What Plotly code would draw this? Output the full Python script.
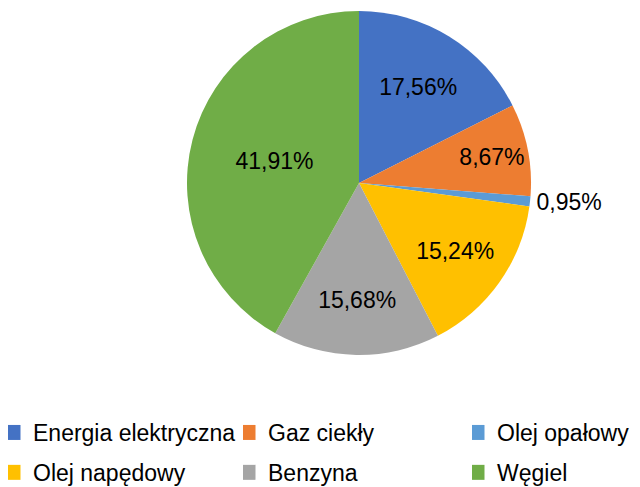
import plotly.graph_objects as go

labels = ["Energia elektryczna", "Gaz ciekły", "Olej opałowy",
          "Olej napędowy", "Benzyna", "Węgiel"]
values = [17.56, 8.67, 0.95, 15.24, 15.68, 41.91]
colors = ["#4472C4", "#ED7D31", "#5B9BD5", "#FFC000", "#A5A5A5", "#70AD47"]
text_pos = ["inside", "inside", "outside", "inside", "inside", "inside"]

FONT = "Liberation Sans, Arial, sans-serif"
# the page body adds an 8px margin, so the figure is 8px smaller than the window
W, H = 632, 479
CX, CY, R = 351, 175, 172

fig = go.Figure()
fig.add_trace(go.Pie(
    labels=labels, values=values, sort=False, direction="clockwise", rotation=0,
    marker=dict(colors=colors, line=dict(width=0)),
    texttemplate="%{value:.2f}%", textposition=text_pos,
    insidetextorientation="horizontal",
    textfont=dict(family=FONT, size=23, color="black"),
    domain=dict(x=[(CX - R) / W, (CX + R) / W], y=[1 - (CY + R) / H, 1 - (CY - R) / H]),
    showlegend=False, hoverinfo="label+percent",
))

# legend entries, laid out in three columns as in the original
legend_names = ["legend", "legend2", "legend3"]
for i, (lab, col) in enumerate(zip(labels, colors)):
    fig.add_trace(go.Scatter(
        x=[None], y=[None], mode="markers", name=lab,
        marker=dict(symbol="square", size=15, color=col),
        legend=legend_names[i % 3], legendgroup=lab, showlegend=True,
    ))

col_x = [0, 235, 464]
leg_common = dict(font=dict(family=FONT, size=23, color="black"),
                  orientation="v", xanchor="left", yanchor="top",
                  indentation=-15, tracegroupgap=7,
                  bgcolor="rgba(0,0,0,0)", itemclick=False)
layout_legends = {}
for name, cx in zip(legend_names, col_x):
    layout_legends[name] = dict(x=cx / W, y=1 - 403 / H, **leg_common)

fig.update_layout(
    width=W, height=H, margin=dict(l=0, r=0, t=0, b=0, autoexpand=False),
    paper_bgcolor="white", plot_bgcolor="white",
    separators=",.",
    xaxis=dict(visible=False), yaxis=dict(visible=False),
    **layout_legends,
)

fig.write_html("out.html")
